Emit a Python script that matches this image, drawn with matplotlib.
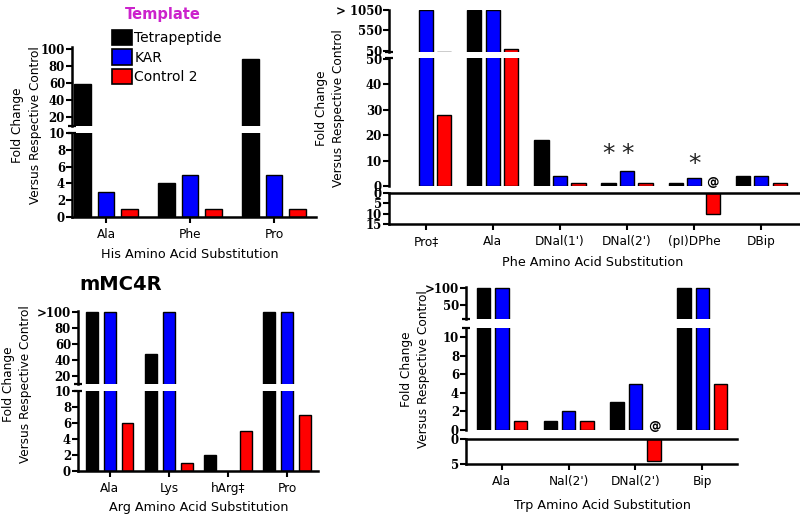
import numpy as np
import matplotlib
matplotlib.use("Agg")
import matplotlib.pyplot as plt
from matplotlib.patches import Patch

W, H = 800, 518

series = ["Tetrapeptide", "KAR", "Control 2"]
colors = ["black", "#0000ff", "#ff0000"]

his_labels = ["Ala", "Phe", "Pro"]
his_tetra = [59, 4, 88]
his_kar = [3, 5, 5]
his_ctrl = [1, 1, 1]

phe_labels = ["Pro‡", "Ala", "DNal(1')", "DNal(2')", "(pI)DPhe", "DBip"]
phe_tetra = [np.nan, 1050, 18, 1, 1, 4]
phe_kar = [1050, 1050, 4, 6, 3, 4]
phe_ctrl = [28, 95, 1, 1, -10, 1]

arg_labels = ["Ala", "Lys", "hArg‡", "Pro"]
arg_tetra = [100, 48, 2, 100]
arg_kar = [100, 100, 0, 100]
arg_ctrl = [6, 1, 5, 7]

trp_labels = ["Ala", "Nal(2')", "DNal(2')", "Bip"]
trp_tetra = [100, 1, 3, 100]
trp_kar = [100, 2, 5, 100]
trp_ctrl = [1, 1, -4.3, 5]

# marks above bars: (text, group, series, y)
phe_marks = [("*", 3, 0, 12.5), ("*", 3, 1, 12.5), ("*", 4, 1, 8.5), ("@", 4, 2, 1.3)]
trp_marks = [("@", 2, 2, 0.4)]

fig = plt.figure(figsize=(8, 5.18), dpi=100)
fig.patch.set_facecolor("white")

YFONT = dict(fontfamily="DejaVu Serif", fontweight="bold", fontsize=8.5)
XFONT = dict(fontfamily="DejaVu Sans", fontsize=8.7)


def px_axes(left, top, right, bottom):
    ax = fig.add_axes([left / W, 1 - bottom / H, (right - left) / W, (bottom - top) / H])
    ax.patch.set_alpha(0)
    return ax


def cap(ax, where):
    ax.plot([0], [where], marker="_", ms=6, mew=1.6, color="black",
            transform=ax.transAxes, clip_on=False, zorder=5)


def segment(xbox, top, bottom, ylim, ticks, ticklabels, vals, step, width, xlim,
            spines=("left",), negative=False):
    ax = px_axes(xbox[0], top, xbox[1], bottom)
    x = np.arange(len(vals[0]))
    for i, v in enumerate(vals):
        v = np.asarray(v, float)
        h = -v if negative else v
        h = np.where(h > 0, h, np.nan)
        ax.bar(x + (i - 1) * step, h, width, color=colors[i], edgecolor="black",
               linewidth=1.0, zorder=2)
    ax.set_xlim(*xlim)
    ax.set_ylim(*ylim)
    for s in ["left", "right", "top", "bottom"]:
        ax.spines[s].set_visible(s in spines)
        ax.spines[s].set_linewidth(1.8)
    ax.set_yticks(ticks, ticklabels, **YFONT)
    ax.tick_params(axis="y", direction="out", length=4, width=1.5, pad=1)
    ax.set_xticks([])
    return ax


def bottom_ticks(ax, labels):
    ax.set_xticks(np.arange(len(labels)), labels, **XFONT)
    ax.tick_params(axis="x", direction="out", length=4, width=1.5, pad=4)


def ylabel(x, y):
    fig.text(x / W, 1 - y / H, "Fold Change\nVersus Respective Control", rotation=90,
             ha="center", va="center", multialignment="center", fontsize=8.7,
             linespacing=1.45)


def xlabel(x, y, s):
    fig.text(x / W, 1 - y / H, s, ha="center", va="center", fontsize=9.2)


def marks(ax, items, step):
    for s, g, i, y in items:
        if s == "*":
            ax.text(g + (i - 1) * step, y, s, ha="center", va="center", fontsize=18,
                    color="#222222")
        else:
            ax.text(g + (i - 1) * step, y, s, ha="center", va="center", fontsize=9,
                    fontweight="bold")


# --- His panel (Template) ---
vals = [his_tetra, his_kar, his_ctrl]
xb, xl, st, wd = (72, 316), (-0.405, 2.5), 0.28, 0.2
up = segment(xb, 47, 125.5, (10, 102.4), [20, 40, 60, 80, 100],
             ["20", "40", "60", "80", "100"], vals, st, wd, xl)
cap(up, 0)
lo = segment(xb, 133, 217, (0, 10), [0, 2, 4, 6, 8, 10],
             ["0", "2", "4", "6", "8", "10"], vals, st, wd, xl, spines=("left", "bottom"))
cap(lo, 1)
bottom_ticks(lo, his_labels)
ylabel(26.5, 125)
xlabel(190, 255, "His Amino Acid Substitution")
fig.text(163 / W, 1 - 15 / H, "Template", ha="center", va="center", fontsize=10.5,
         fontweight="bold", color="#cc22cc")
handles = [Patch(facecolor=c, edgecolor="black", linewidth=1.2) for c in colors]
fig.legend(handles, series, loc="upper left", bbox_to_anchor=(112 / W, 1 - 30 / H),
           frameon=False, fontsize=10, handlelength=1.45, handleheight=1.3,
           handletextpad=0.15, labelspacing=0.3, borderpad=0, borderaxespad=0)

# --- Phe panel ---
vals = [phe_tetra, phe_kar, phe_ctrl]
xb, xl, st, wd = (389, 800), (-0.55, 5.58), 0.276, 0.21
up = segment(xb, 9.5, 51.5, (45, 1050), [50, 550, 1050], ["50", "550", "> 1050"],
             vals, st, wd, xl)
cap(up, 0)
mid = segment(xb, 58, 186, (0, 50.4), [0, 10, 20, 30, 40, 50],
              ["0", "10", "20", "30", "40", "50"], vals, st, wd, xl)
cap(mid, 1)
marks(mid, phe_marks, st)
lo = segment(xb, 193, 224, (15, 0), [0, 5, 10, 15], ["0", "5", "10", "15"],
             vals, st, wd, xl, spines=("left", "top", "bottom"), negative=True)
bottom_ticks(lo, phe_labels)
ylabel(330, 108)
xlabel(593, 262, "Phe Amino Acid Substitution")

# --- Arg panel (mMC4R) ---
vals = [arg_tetra, arg_kar, arg_ctrl]
xb, xl, st, wd = (78, 318), (-0.54, 3.525), 0.30, 0.2
up = segment(xb, 311, 384, (10, 101.25), [20, 40, 60, 80, 100],
             ["20", "40", "60", "80", ">100"], vals, st, wd, xl)
cap(up, 0)
lo = segment(xb, 391, 471, (0, 10), [0, 2, 4, 6, 8, 10],
             ["0", "2", "4", "6", "8", "10"], vals, st, wd, xl, spines=("left", "bottom"))
cap(lo, 1)
bottom_ticks(lo, arg_labels)
ylabel(17, 384)
xlabel(199, 507, "Arg Amino Acid Substitution")
fig.text(121 / W, 1 - 285 / H, "mMC4R", ha="center", va="center", fontsize=14,
         fontweight="bold")

# --- Trp panel ---
vals = [trp_tetra, trp_kar, trp_ctrl]
xb, xl, st, wd = (466, 737), (-0.537, 3.52), 0.276, 0.2
up = segment(xb, 287, 319, (8.8, 103), [50, 100], ["50", ">100"], vals, st, wd, xl)
cap(up, 0)
mid = segment(xb, 328, 430, (0, 11), [0, 2, 4, 6, 8, 10],
              ["0", "2", "4", "6", "8", "10"], vals, st, wd, xl)
cap(mid, 1)
marks(mid, trp_marks, st)
lo = segment(xb, 439, 464, (5, 0), [0, 5], ["0", "5"], vals, st, wd, xl,
             spines=("left", "top", "bottom"), negative=True)
bottom_ticks(lo, trp_labels)
ylabel(415, 369)
xlabel(602, 505, "Trp Amino Acid Substitution")

fig.savefig("out.png", dpi=100, facecolor="white")
